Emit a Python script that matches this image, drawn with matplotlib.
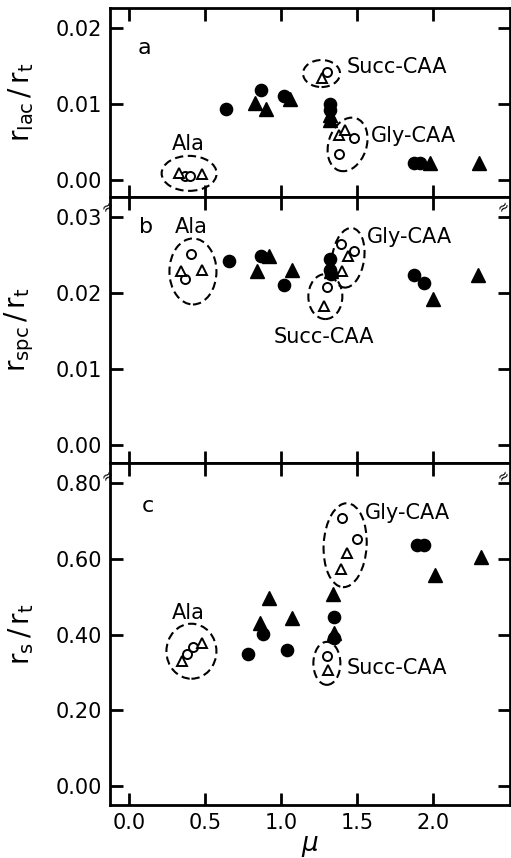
import numpy as np
import matplotlib
matplotlib.use("Agg")
import matplotlib.pyplot as plt
from matplotlib.patches import Ellipse
from matplotlib.transforms import ScaledTranslation

# --- data (x = growth rate mu) ---
# panel a: r_lac / r_t
a_fc_x = [0.64, 0.87, 1.02, 1.32, 1.32, 1.87, 1.91]
a_fc_y = [0.0094, 0.0118, 0.0110, 0.0100, 0.0092, 0.0022, 0.0022]
a_ft_x = [0.83, 0.90, 1.06, 1.32, 1.32, 1.98, 2.30]
a_ft_y = [0.0101, 0.0094, 0.0107, 0.0085, 0.0079, 0.0022, 0.0023]
a_oc_x = [0.37, 0.40, 1.30, 1.38, 1.48]
a_oc_y = [0.0005, 0.0006, 0.0142, 0.0035, 0.0055]
a_ot_x = [0.33, 0.48, 1.27, 1.38, 1.42]
a_ot_y = [0.0009, 0.0008, 0.0134, 0.0059, 0.0066]

# panel b: r_spc / r_t
b_fc_x = [0.66, 0.87, 1.02, 1.32, 1.32, 1.33, 1.87, 1.94]
b_fc_y = [0.0242, 0.0248, 0.0210, 0.0245, 0.0230, 0.0225, 0.0224, 0.0213]
b_ft_x = [0.84, 0.92, 1.07, 1.33, 2.00, 2.29]
b_ft_y = [0.0228, 0.0248, 0.0230, 0.0228, 0.0192, 0.0224]
b_oc_x = [0.41, 0.37, 1.39, 1.48, 1.30]
b_oc_y = [0.0251, 0.0218, 0.0264, 0.0255, 0.0207]
b_ot_x = [0.34, 0.48, 1.44, 1.40, 1.28]
b_ot_y = [0.0228, 0.0230, 0.0248, 0.0228, 0.0183]

# panel c: r_s / r_t
c_fc_x = [0.785, 0.88, 1.04, 1.35, 1.35, 1.89, 1.94]
c_fc_y = [0.348, 0.402, 0.360, 0.446, 0.392, 0.636, 0.636]
c_ft_x = [0.86, 0.92, 1.07, 1.34, 1.35, 2.01, 2.31]
c_ft_y = [0.431, 0.496, 0.444, 0.508, 0.405, 0.556, 0.606]
c_oc_x = [0.38, 0.42, 1.40, 1.50, 1.30]
c_oc_y = [0.348, 0.367, 0.708, 0.653, 0.344]
c_ot_x = [0.35, 0.48, 1.43, 1.39, 1.31]
c_ot_y = [0.329, 0.378, 0.615, 0.573, 0.307]

x_ticks = [0.0, 0.5, 1.0, 1.5, 2.0]

plt.rcParams['font.family'] = ['DejaVu Sans']

fig = plt.figure(figsize=(5.11, 8.58), dpi=100)
W, H = 511.0, 858.0
left, right = 110 / W, 509.5 / W


def make_axes(top_px, bot_px):
    return fig.add_axes([left, 1 - bot_px / H, right - left, (bot_px - top_px) / H])


ax_a = make_axes(8, 197)
ax_b = make_axes(197, 463)
ax_c = make_axes(463, 805)


def draw_points(ax, fc, ft, oc, ot):
    ax.plot(*fc, 'o', color='black', ms=8.8, ls='none', zorder=3)
    ax.plot(*ft, '^', color='black', ms=9.8, ls='none', zorder=3)
    ax.plot(*oc, 'o', mfc='white', mec='black', mew=1.4, ms=6.5, ls='none', zorder=4)
    ax.plot(*ot, '^', mfc='white', mec='black', mew=1.4, ms=7.8, ls='none', zorder=4)


def ring(ax, x, y, w_px, h_px, angle=0):
    # dashed ellipse sized in pixels, centred on a data point
    tr = fig.dpi_scale_trans + ScaledTranslation(x, y, ax.transData)
    e = Ellipse((0, 0), w_px / 100, h_px / 100, angle=angle, transform=tr,
                fill=False, lw=1.5, ls=(0, (4, 2.2)), color='black', zorder=5)
    ax.add_artist(e)


draw_points(ax_a, (a_fc_x, a_fc_y), (a_ft_x, a_ft_y), (a_oc_x, a_oc_y), (a_ot_x, a_ot_y))
draw_points(ax_b, (b_fc_x, b_fc_y), (b_ft_x, b_ft_y), (b_oc_x, b_oc_y), (b_ot_x, b_ot_y))
draw_points(ax_c, (c_fc_x, c_fc_y), (c_ft_x, c_ft_y), (c_oc_x, c_oc_y), (c_ot_x, c_ot_y))

ax_a.set_ylim(-0.0022, 0.0226)
ax_b.set_ylim(-0.0024, 0.0326)
ax_c.set_ylim(-0.050, 0.853)
ax_a.set_yticks([0.0, 0.01, 0.02])
ax_a.set_yticklabels(['0.00', '0.01', '0.02'])
ax_b.set_yticks([0.0, 0.01, 0.02, 0.03])
ax_b.set_yticklabels(['0.00', '0.01', '0.02', '0.03'])
ax_c.set_yticks([0.0, 0.2, 0.4, 0.6, 0.8])
ax_c.set_yticklabels(['0.00', '0.20', '0.40', '0.60', '0.80'])

for ax in (ax_a, ax_b, ax_c):
    ax.set_xlim(-0.125, 2.5)
    ax.set_xticks(x_ticks)
    ax.tick_params(direction='in', top=True, right=True, length=9, width=2,
                   labelsize=15, pad=6)
    for s in ax.spines.values():
        s.set_linewidth(2)
ax_a.tick_params(labelbottom=False)
ax_b.tick_params(labelbottom=False)
ax_c.set_xticklabels(['0.0', '0.5', '1.0', '1.5', '2.0'])

# ellipses around the grouped open symbols
ring(ax_a, 0.395, 0.0009, 55, 35)
ring(ax_a, 1.265, 0.0140, 37, 27)
ring(ax_a, 1.436, 0.0047, 38, 55, -18)
ring(ax_b, 0.42, 0.0228, 47, 66)
ring(ax_b, 1.44, 0.0246, 32, 60, -8)
ring(ax_b, 1.29, 0.0195, 34, 45)
ring(ax_c, 0.41, 0.356, 50, 55)
ring(ax_c, 1.42, 0.636, 43, 84, -3)
ring(ax_c, 1.30, 0.324, 27, 43)

# annotations
fs = 15
ax_a.text(0.10, 0.0174, 'a', fontsize=16, ha='center', va='center')
ax_a.text(0.39, 0.0048, 'Ala', fontsize=fs, ha='center', va='center')
ax_a.text(1.43, 0.0148, 'Succ-CAA', fontsize=fs, ha='left', va='center')
ax_a.text(1.59, 0.0058, 'Gly-CAA', fontsize=fs, ha='left', va='center')

ax_b.text(0.11, 0.0286, 'b', fontsize=16, ha='center', va='center')
ax_b.text(0.41, 0.0286, 'Ala', fontsize=fs, ha='center', va='center')
ax_b.text(1.56, 0.0274, 'Gly-CAA', fontsize=fs, ha='left', va='center')
ax_b.text(0.95, 0.0142, 'Succ-CAA', fontsize=fs, ha='left', va='center')

ax_c.text(0.125, 0.740, 'c', fontsize=16, ha='center', va='center')
ax_c.text(0.39, 0.457, 'Ala', fontsize=fs, ha='center', va='center')
ax_c.text(1.55, 0.722, 'Gly-CAA', fontsize=fs, ha='left', va='center')
ax_c.text(1.43, 0.311, 'Succ-CAA', fontsize=fs, ha='left', va='center')

# axis-break marks
for ax in (ax_b, ax_c):
    for xa in (-0.005, 0.985):
        ax.text(xa, 0.963, '≈', fontsize=10, rotation=40, ha='center', va='center',
                transform=ax.transAxes, clip_on=False)

ax_a.set_ylabel(r'$\mathrm{r_{lac}\,/\,r_t}$', fontsize=20)
ax_b.set_ylabel(r'$\mathrm{r_{spc}\,/\,r_t}$', fontsize=20)
ax_c.set_ylabel(r'$\mathrm{r_s\,/\,r_t}$', fontsize=20)
for ax in (ax_a, ax_b, ax_c):
    ax.yaxis.set_label_coords(-0.185, 0.5)
ax_c.set_xlabel(r'$\mu$', fontsize=19, labelpad=0)

fig.savefig('out.png', dpi=100)
